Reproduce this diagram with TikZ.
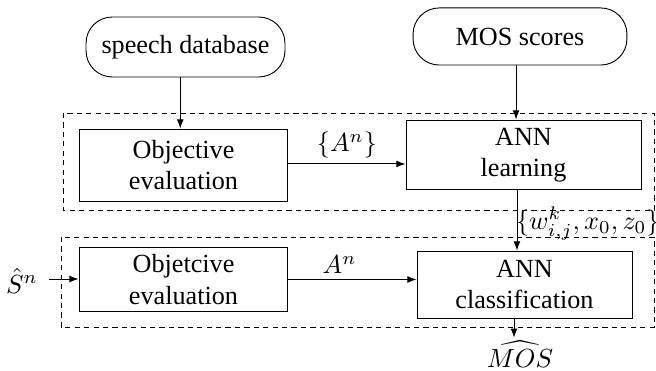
\documentclass[tikz,border=0pt]{standalone}
\usepackage{fontspec}
\setmainfont{LiberationSerif}[Extension=.ttf,UprightFont=*-Regular,BoldFont=*-Bold,ItalicFont=*-Italic]
\usetikzlibrary{arrows.meta}
\begin{document}
\begin{tikzpicture}[x=0.382pt,y=-0.382pt,
  every node/.style={inner sep=1pt,font=\rmfamily\normalsize},
  blk/.style={draw,align=center,line width=0.35pt},
  term/.style={draw,rounded corners=10pt,align=center,line width=0.35pt},
  arr/.style={-{Latex[length=3.5pt,width=2.6pt]},line width=0.35pt},
  dashbox/.style={dash pattern=on 2pt off 1.6pt,line width=0.35pt}]
\useasboundingbox (0,0) rectangle (656,371);
% dashed groups
\draw[dashbox] (63,113) rectangle (654,210);
\draw[dashbox] (61,237) rectangle (654,327);
% nodes
\node[term,minimum width=76pt,minimum height=22.9pt] (sdb) at (185.5,47) {speech database};
\node[term,minimum width=81.7pt,minimum height=21.8pt] (mos) at (520,36.5) {MOS scores};
\node[blk,minimum width=79.8pt,minimum height=27.5pt] (obj1) at (183.5,165) {Objective\\evaluation};
\node[blk,minimum width=89.8pt,minimum height=26.7pt] (annl) at (523.5,155) {ANN\\learning};
\node[blk,minimum width=79.8pt,minimum height=24.8pt] (obj2) at (183.5,279.5) {Objetcive\\evaluation};
\node[blk,minimum width=82.1pt,minimum height=25.6pt] (annc) at (524.5,284.5) {ANN\\classification};
\node (sin) at (22,281) {$\hat{S}^n$};
\node (mosout) at (520,354) {$\widehat{MOS}$};
\coordinate (sinend) at (49,279);
% connectors
\draw[arr] ([xshift=-2pt]sdb.south) -- ([xshift=-2pt]sdb.south |- obj1.north);
\draw[arr] ([xshift=-1.5pt]mos.south) -- ([xshift=-1.5pt]mos.south |- annl.north);
\draw[arr] ([yshift=0.4pt]obj1.east) -- node[above=1pt] {$\{A^n\}$} ([yshift=0.4pt]obj1.east -| annl.west);
\draw[arr] (obj2.east) -- node[above=1pt,pos=0.4] {$A^n$} (obj2.east -| annc.west);
\draw[arr] ([xshift=-2.5pt]annl.south) -- node[right=-1.5pt,pos=0.55] {$\{w_{i,j}^k,x_0,z_0\}$} ([xshift=-2.5pt]annl.south |- annc.north);
\draw[arr] (sinend) -- (sinend -| obj2.west);
\draw[arr] ([xshift=-4pt]annc.south) -- ([xshift=-4pt]annc.south |- mosout.north);
\end{tikzpicture}
\end{document}
